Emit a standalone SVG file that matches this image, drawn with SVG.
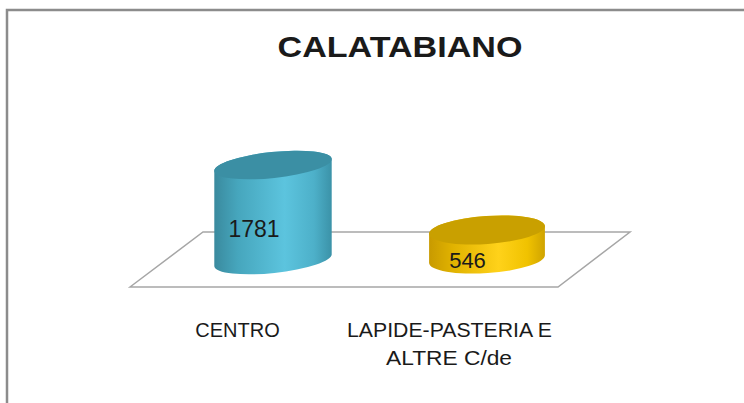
<svg xmlns="http://www.w3.org/2000/svg" width="744" height="403" viewBox="0 0 744 403">
  <defs>
    <linearGradient id="gBlue" x1="0" y1="0" x2="1" y2="0">
      <stop offset="0" stop-color="#3a8a9e"/>
      <stop offset="0.2" stop-color="#46a6bd"/>
      <stop offset="0.6" stop-color="#5cc4de"/>
      <stop offset="0.85" stop-color="#4db0c9"/>
      <stop offset="1" stop-color="#3b92a8"/>
    </linearGradient>
    <linearGradient id="gGold" x1="0" y1="0" x2="1" y2="0">
      <stop offset="0" stop-color="#c89a00"/>
      <stop offset="0.2" stop-color="#e0b200"/>
      <stop offset="0.6" stop-color="#ffd21a"/>
      <stop offset="0.85" stop-color="#f0c200"/>
      <stop offset="1" stop-color="#cfa300"/>
    </linearGradient>
    <style>
      .lbl { font-family: "Liberation Sans", Arial, sans-serif; fill: #1a1a1a; }
      .floor { fill: #ffffff; stroke: #a6a6a6; stroke-width: 1.5; }
      .frame { fill: none; stroke: #8c8c8c; stroke-width: 2.5; }
    </style>
  </defs>
  <rect width="744" height="403" fill="#ffffff"/>
  <path class="frame" d="M7,403 V10 H744"/>

  <g id="title">
    <text class="lbl" x="400" y="57" font-size="30" font-weight="bold" text-anchor="middle" textLength="245" lengthAdjust="spacingAndGlyphs" fill="#000">CALATABIANO</text>
  </g>

  <g id="floor">
    <polygon class="floor" points="130,287 203,232 630,232 558,287"/>
  </g>

  <g id="bar-centro">
    <path d="M214.3,171.2 L214.3,266.2 A59,13 -6 0 0 331.7,253.8 L331.7,158.8 A59,13 -6 0 0 214.3,171.2 Z" fill="url(#gBlue)"/>
    <ellipse cx="273" cy="165" rx="59" ry="13" transform="rotate(-6 273 165)" fill="#3b8fa4"/>
    <text class="lbl" x="254" y="237" font-size="23" text-anchor="middle">1781</text>
  </g>

  <g id="bar-lapide">
    <path d="M429.1,234 L429.1,263 A58,14 -4 0 0 544.9,255 L544.9,226 A58,14 -4 0 0 429.1,234 Z" fill="url(#gGold)"/>
    <ellipse cx="487" cy="230" rx="58" ry="14" transform="rotate(-4 487 230)" fill="#c9a000"/>
    <text class="lbl" x="467.5" y="268" font-size="22" text-anchor="middle">546</text>
  </g>

  <g id="axis-labels">
    <text class="lbl" x="237.5" y="337" font-size="20" text-anchor="middle">CENTRO</text>
    <text class="lbl" x="449.5" y="337" font-size="20" text-anchor="middle" textLength="205" lengthAdjust="spacingAndGlyphs">LAPIDE-PASTERIA E</text>
    <text class="lbl" x="449" y="365" font-size="20" text-anchor="middle" textLength="126" lengthAdjust="spacingAndGlyphs">ALTRE C/de</text>
  </g>
</svg>
